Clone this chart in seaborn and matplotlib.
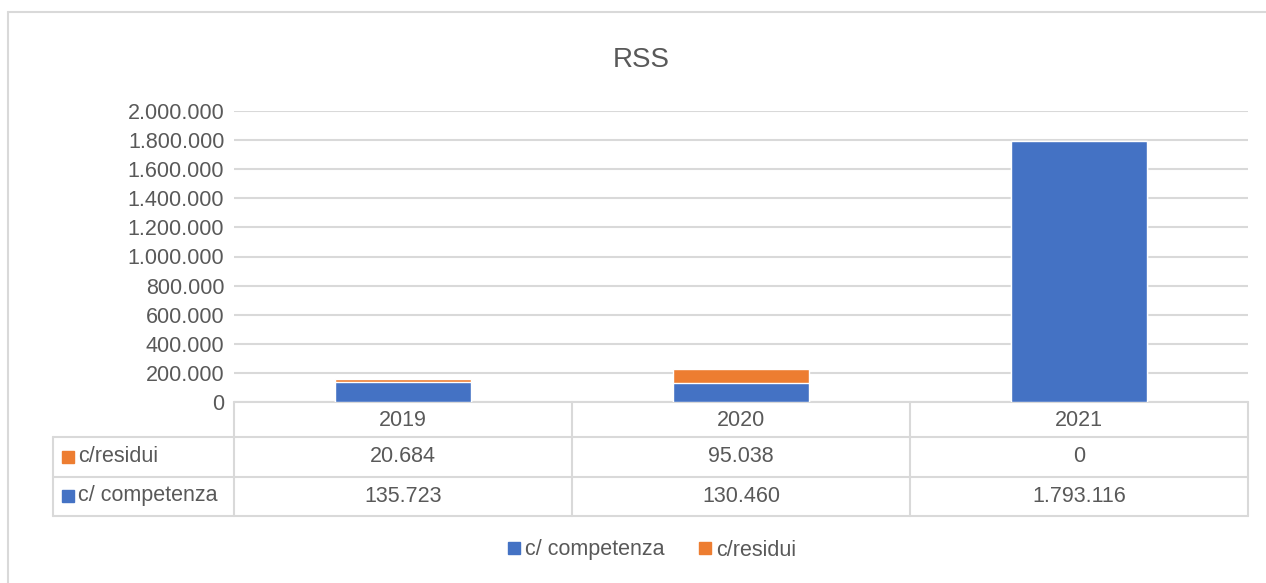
import numpy as np
import pandas as pd
import matplotlib
matplotlib.use("Agg")
import matplotlib.pyplot as plt
from matplotlib.lines import Line2D
from matplotlib.ticker import FuncFormatter
import seaborn as sns

years = ["2019", "2020", "2021"]
competenza = [135723, 130460, 1793116]
residui = [20684, 95038, 0]
series_names = ["c/ competenza", "c/residui"]

BLUE = "#4472C4"
ORANGE = "#ED7D31"
GRID = "#D9D9D9"
TXT = "#595959"
FS = 15.5

sns.set_style("white")
plt.rcParams["font.family"] = ["Liberation Sans", "DejaVu Sans"]

df = pd.DataFrame({"anno": years, "competenza": competenza, "residui": residui})
df["totale"] = df["competenza"] + df["residui"]

W, H = 1266, 583
fig = plt.figure(figsize=(W / 100, H / 100), dpi=100)
# plot area in pixels: x 234..1248, y 111..402
L, R, T, B = 234, 1248, 111, 402
ax = fig.add_axes([L / W, (H - B) / H, (R - L) / W, (B - T) / H])

# stacked bars: total in orange behind, competenza in blue on top
sns.barplot(data=df, x="anno", y="totale", color=ORANGE, width=0.4,
            saturation=1, ax=ax, zorder=3)
sns.barplot(data=df, x="anno", y="competenza", color=BLUE, width=0.4,
            saturation=1, ax=ax, zorder=4)

ax.set_xlim(-0.5, 2.5)
ax.set_ylim(0, 2000000)
ax.set_yticks(np.arange(0, 2000001, 200000))
ax.yaxis.set_major_formatter(FuncFormatter(lambda v, p: f"{int(v):,}".replace(",", ".")))
ax.tick_params(axis="y", length=0, pad=7, labelsize=FS, labelcolor=TXT)
ax.set_xticks([])
ax.set_xlabel("")
ax.set_ylabel("")
ax.grid(axis="y", color=GRID, lw=1.5, zorder=0)
for s in ax.spines.values():
    s.set_visible(False)

# data table under the plot (axes fraction coordinates)
def fx(px):
    return (px - L) / (R - L)

def fy(py):
    return (B - py) / (B - T)

tr = ax.transAxes
def hline(py, x0, x1):
    ax.add_line(Line2D([fx(x0), fx(x1)], [fy(py), fy(py)], transform=tr,
                       color=GRID, lw=1.5, clip_on=False))

def vline(px, y0, y1):
    ax.add_line(Line2D([fx(px), fx(px)], [fy(y0), fy(y1)], transform=tr,
                       color=GRID, lw=1.5, clip_on=False))

hline(402, L, R)
for py in [437, 477, 516]:
    hline(py, 53, R)
vline(53, 437, 516)
for i in range(len(years) + 1):
    vline(L + i * (R - L) / len(years), 402, 516)

fmt = lambda v: f"{v:,}".replace(",", ".")
xt = ax.get_xaxis_transform()
for i, yr in enumerate(years):
    ax.text(i, fy(420), yr, transform=xt, ha="center", va="center",
            fontsize=FS, color=TXT)
    ax.text(i, fy(457), fmt(residui[i]), transform=xt, ha="center",
            va="center", fontsize=FS, color=TXT)
    ax.text(i, fy(496), fmt(competenza[i]), transform=xt, ha="center",
            va="center", fontsize=FS, color=TXT)

for py, name, col in [(457, series_names[1], ORANGE), (496, series_names[0], BLUE)]:
    ax.plot([fx(68)], [fy(py)], marker="s", ms=9, color=col, transform=tr,
            clip_on=False)
    ax.text(fx(78), fy(py), name, transform=tr, ha="left", va="center",
            fontsize=FS, color=TXT)

# title
fig.text(641 / W, 1 - 60 / H, "RSS", ha="center", va="center",
         fontsize=20, color=TXT)

# legend
handles = [Line2D([], [], ls="none", marker="s", ms=9, color=BLUE),
           Line2D([], [], ls="none", marker="s", ms=9, color=ORANGE)]
fig.legend(handles, series_names, loc="center", bbox_to_anchor=(652 / W, 1 - 550 / H),
           ncol=2, frameon=False, fontsize=FS, labelcolor=TXT,
           handlelength=0.6, handletextpad=0.2, columnspacing=1.6)

# chart border (left and top visible)
fig.add_artist(Line2D([8 / W, 8 / W], [0, 1 - 12 / H], color=GRID, lw=1.5))
fig.add_artist(Line2D([8 / W, 1], [1 - 12 / H, 1 - 12 / H], color=GRID, lw=1.5))

fig.savefig("out.png", dpi=100)
